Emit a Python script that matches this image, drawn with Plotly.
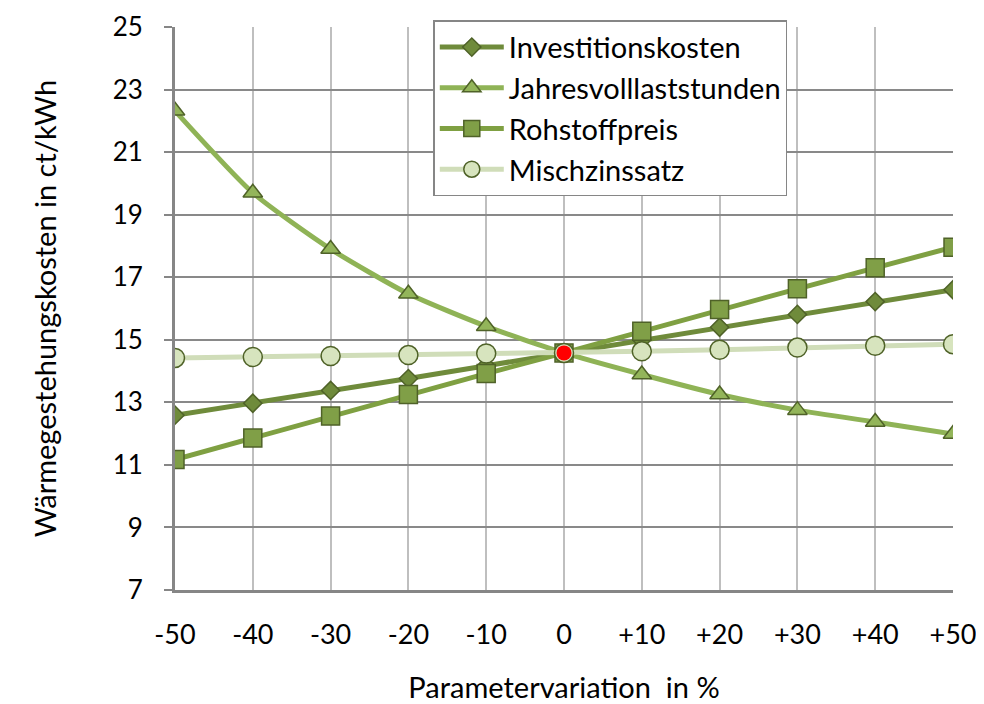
import plotly.graph_objects as go

variation = [-50, -40, -30, -20, -10, 0, 10, 20, 30, 40, 50]
tick_labels = ["-50", "-40", "-30", "-20", "-10", "0", "+10", "+20", "+30", "+40", "+50"]

investitionskosten = [12.59, 12.97, 13.38, 13.76, 14.17, 14.58, 14.99, 15.40, 15.81, 16.22, 16.60]
jahresvolllaststunden = [22.32, 19.70, 17.90, 16.47, 15.43, 14.58, 13.89, 13.25, 12.75, 12.37, 11.99]
rohstoffpreis = [11.17, 11.86, 12.56, 13.25, 13.92, 14.58, 15.27, 15.97, 16.63, 17.30, 17.96]
mischzinssatz = [14.42, 14.45, 14.48, 14.51, 14.56, 14.58, 14.63, 14.68, 14.75, 14.81, 14.86]

basis_x = [0]
basis_y = [14.58]

border = "#4F6228"

fig = go.Figure()

fig.add_trace(go.Scatter(
    x=variation, y=investitionskosten, name="Investitionskosten",
    mode="lines+markers",
    line=dict(color="#6F8B3B", width=5),
    marker=dict(symbol="diamond", size=14, color="#6F8B3B", line=dict(color=border, width=1.5))
))
fig.add_trace(go.Scatter(
    x=variation, y=jahresvolllaststunden, name="Jahresvolllaststunden",
    mode="lines+markers",
    line=dict(color="#8FB356", width=5, shape="spline", smoothing=0.6),
    marker=dict(symbol="triangle-up", size=17, color="#93B55A", line=dict(color=border, width=1.5))
))
fig.add_trace(go.Scatter(
    x=variation, y=rohstoffpreis, name="Rohstoffpreis",
    mode="lines+markers",
    line=dict(color="#7FA042", width=5),
    marker=dict(symbol="square", size=18, color="#809F47", line=dict(color=border, width=1.5))
))
fig.add_trace(go.Scatter(
    x=variation, y=mischzinssatz, name="Mischzinssatz",
    mode="lines+markers",
    line=dict(color="#D0DDB9", width=5),
    marker=dict(symbol="circle", size=19, color="#D7E4BE", line=dict(color=border, width=1.5))
))
fig.add_trace(go.Scatter(
    x=basis_x, y=basis_y, mode="markers", showlegend=False,
    marker=dict(symbol="circle", size=15, color="#FF0000")
))

font = "Lato, 'Open Sans', sans-serif"

# page has an 8px body margin, so keep the figure inside the window
fig.update_layout(
    width=976, height=696,
    margin=dict(l=167, r=31, t=19, b=114, autoexpand=False),
    paper_bgcolor="white", plot_bgcolor="white",
    font=dict(family=font, size=28, color="black"),
    legend=dict(
        x=0.332, y=1.012, xanchor="left", yanchor="top",
        bgcolor="white", bordercolor="#868686", borderwidth=1.5,
        font=dict(size=29), tracegroupgap=0, itemwidth=64,
    ),
    xaxis=dict(
        range=[-50, 50], tickvals=variation, ticktext=tick_labels,
        showgrid=True, gridcolor="#BFBFBF", gridwidth=2,
        showline=True, linecolor="#868686", linewidth=3,
        ticks="", zeroline=False, ticklabelstandoff=19,
        tickfont=dict(size=27),
        title=dict(text="Parametervariation  in %", standoff=30, font=dict(size=29)),
    ),
    yaxis=dict(
        range=[7, 25], dtick=2, tick0=7,
        showgrid=True, gridcolor="#898989", gridwidth=1.5,
        showline=True, linecolor="#868686", linewidth=3,
        ticks="outside", ticklen=8, tickcolor="#868686", tickwidth=2,
        zeroline=False, ticklabelstandoff=16, ticklabeloverflow="allow",
        tickfont=dict(size=26),
        title=dict(text="Wärmegestehungskosten in ct/kWh", standoff=48, font=dict(size=29)),
    ),
)

fig.write_html("out.html")
